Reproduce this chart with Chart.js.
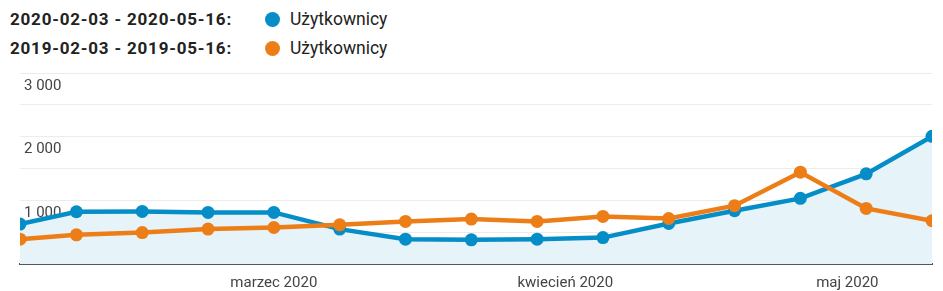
<!DOCTYPE html>
<html>
<head>
<meta charset="utf-8">
<script src="https://cdn.jsdelivr.net/npm/chart.js@4.4.1/dist/chart.umd.min.js"></script>
<style>
  html, body { margin: 0; padding: 0; background: #fff; }
  #wrap { position: relative; width: 943px; height: 291px; overflow: hidden; }
  #chartBox { position: absolute; left: 0; top: 0; width: 943px; height: 291px; }
  .leg { position: absolute; left: 0; height: 24px; line-height: 24px; font-family: Roboto, sans-serif; font-size: 17px; color: #222; white-space: nowrap; }
  .leg .range { position: absolute; left: 10px; font-weight: bold; letter-spacing: 0.8px; }
  .leg .dot { position: absolute; left: 265px; top: 5px; width: 15px; height: 15px; border-radius: 50%; }
  .leg .name { position: absolute; left: 290px; font-size: 17.5px; }
</style>
</head>
<body>
<div id="wrap">
  <div id="legend"></div>
  <div id="chartBox"><canvas id="chart"></canvas></div>
</div>
<script>
// tygodnie (pierwszy punkt to niepełny tydzień)
const weekDates = ['2020-02-03', '2020-02-09', '2020-02-16', '2020-02-23', '2020-03-01',
  '2020-03-08', '2020-03-15', '2020-03-22', '2020-03-29', '2020-04-05',
  '2020-04-12', '2020-04-19', '2020-04-26', '2020-05-03', '2020-05-10'];

const users2020 = [627, 821, 826, 810, 810, 548, 390, 379, 390, 415, 636, 837, 1031, 1416, 2005];
const users2019 = [390, 458, 494, 548, 573, 616, 668, 706, 668, 747, 715, 916, 1442, 873, 679];

const rangeLabels = ['2020-02-03 - 2020-05-16:', '2019-02-03 - 2019-05-16:'];
const seriesName = 'Użytkownicy';
const colors = ['#058dc7', '#ed7e17'];

const monthTicks = ['2020-03-01', '2020-04-01', '2020-05-01'];
const monthLabels = ['marzec 2020', 'kwiecień 2020', 'maj 2020'];

const yTicks = [1000, 2000, 3000];
const yLabels = ['1 000', '2 000', '3 000'];

// legenda w HTML
const legend = document.getElementById('legend');
rangeLabels.forEach((txt, i) => {
  const row = document.createElement('div');
  row.className = 'leg';
  row.style.top = (7 + i * 29) + 'px';
  row.innerHTML = `<span class="range">${txt}</span><span class="dot" style="background:${colors[i]}"></span><span class="name">${seriesName}</span>`;
  legend.appendChild(row);
});

const dayOf = (s) => (Date.parse(s) - Date.parse(weekDates[0])) / 86400000;
const toPoints = (vals) => vals.map((v, i) => ({ x: dayOf(weekDates[i]), y: v }));

const zeroWidth = (scale) => { scale.width = 0; };

const ctx = document.getElementById('chart').getContext('2d');
new Chart(ctx, {
  type: 'line',
  data: {
    datasets: [
      {
        label: seriesName,
        data: toPoints(users2020),
        borderColor: colors[0],
        backgroundColor: colors[0],
        fill: { target: 'origin', above: '#e6f3f9' },
        borderWidth: 4.5,
        pointRadius: 6.5,
        pointBorderWidth: 0,
        pointBackgroundColor: colors[0],
        tension: 0,
        order: 1
      },
      {
        label: seriesName,
        data: toPoints(users2019),
        borderColor: colors[1],
        backgroundColor: colors[1],
        fill: false,
        borderWidth: 4.5,
        pointRadius: 6.5,
        pointBorderWidth: 0,
        pointBackgroundColor: colors[1],
        tension: 0,
        order: 0
      }
    ]
  },
  options: {
    responsive: true,
    maintainAspectRatio: false,
    animation: false,
    layout: { padding: { left: 20, right: 11, top: 73, bottom: 0 } },
    scales: {
      x: {
        type: 'linear',
        min: 0,
        max: dayOf(weekDates[weekDates.length - 1]),
        afterBuildTicks: (scale) => { scale.ticks = monthTicks.map(d => ({ value: dayOf(d) })); },
        afterFit: (scale) => { scale.height = 27; },
        grid: { display: false },
        border: { color: '#555', width: 2 },
        ticks: {
          autoSkip: false,
          maxRotation: 0,
          padding: 2,
          color: '#444',
          font: { family: 'Roboto', size: 15 },
          callback: (v) => monthLabels[monthTicks.findIndex(d => dayOf(d) === v)]
        }
      },
      y: {
        min: 0,
        max: 3000,
        afterFit: zeroWidth,
        ticks: { stepSize: 500, display: false },
        grid: { color: '#ececec', lineWidth: 1, drawTicks: false },
        border: { display: false }
      },
      yl: {
        position: 'left',
        min: 0,
        max: 3000,
        z: 1,
        afterFit: zeroWidth,
        afterBuildTicks: (scale) => { scale.ticks = yTicks.map(v => ({ value: v })); },
        grid: { display: false },
        border: { display: false },
        ticks: {
          mirror: true,
          padding: 4,
          labelOffset: 13,
          color: '#444',
          font: { family: 'Roboto', size: 15 },
          showLabelBackdrop: true,
          backdropColor: '#ffffff',
          backdropPadding: 1,
          callback: (v) => yLabels[yTicks.indexOf(v)]
        }
      }
    },
    plugins: {
      legend: { display: false },
      tooltip: { enabled: false }
    }
  }
});
</script>
</body>
</html>
